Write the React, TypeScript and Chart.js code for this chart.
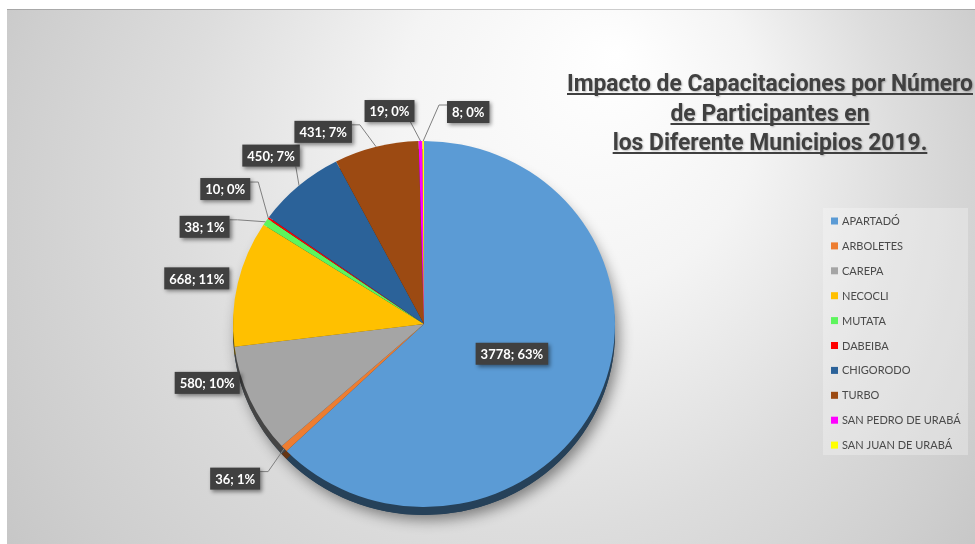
import React, { useEffect, useRef } from "react";
import { Chart, registerables } from "chart.js";

Chart.register(...registerables);

// ---------- data ----------
const municipios = [
  "APARTADÓ",
  "ARBOLETES",
  "CAREPA",
  "NECOCLI",
  "MUTATA",
  "DABEIBA",
  "CHIGORODO",
  "TURBO",
  "SAN PEDRO DE URABÁ",
  "SAN JUAN DE URABÁ",
];
const participantes = [3778, 36, 580, 668, 38, 10, 450, 431, 19, 8];
const colores = [
  "#5b9bd5",
  "#ed7d31",
  "#a5a5a5",
  "#ffc000",
  "#5df55d",
  "#ff0000",
  "#2b6299",
  "#9c4a12",
  "#ff00ff",
  "#ffff00",
];
const tituloLineas = [
  "Impacto de Capacitaciones por Número",
  "de Participantes en",
  "los Diferente Municipios 2019.",
];

// ---------- label placement (style: offsets from slice edge) ----------
const etiquetaDesplazamiento: [number, number][] = [
  [0, -6],
  [-49, 30],
  [-43, -17],
  [-41, -5],
  [-61, 5],
  [-43, -29],
  [-28, -30],
  [-53, -15],
  [-31, -30],
  [45, -29],
];

const SY = 183 / 191; // vertical squash of the tilted pie
const DEPTH = 8; // visible thickness of the pie edge

function oscurecer(hex: string, f: number) {
  const n = parseInt(hex.slice(1), 16);
  const r = Math.round(((n >> 16) & 255) * f);
  const g = Math.round(((n >> 8) & 255) * f);
  const b = Math.round((n & 255) * f);
  return `rgb(${r},${g},${b})`;
}

const fondoPlugin = {
  id: "fondo",
  beforeDraw(chart: any) {
    const { ctx, width, height } = chart;
    ctx.save();
    const g = ctx.createRadialGradient(610, 45, 0, 480, 240, 600);
    g.addColorStop(0, "#ffffff");
    g.addColorStop(0.3, "#f4f4f4");
    g.addColorStop(0.6, "#dddddd");
    g.addColorStop(0.85, "#cecece");
    g.addColorStop(1, "#c4c4c4");
    ctx.fillStyle = g;
    ctx.fillRect(0, 0, width, height);
    ctx.fillStyle = "rgba(0,0,0,0.18)";
    ctx.fillRect(0, 0, width, 1);
    ctx.restore();
  },
};

const pie3DPlugin = {
  id: "pie3d",
  beforeDatasetsDraw(chart: any) {
    const ctx = chart.ctx;
    const arcs = chart.getDatasetMeta(0).data as any[];
    if (!arcs.length) return;
    const { x, y, outerRadius } = arcs[0];
    const d = DEPTH / SY;
    ctx.save();
    ctx.translate(x, y);
    ctx.scale(1, SY);
    ctx.translate(-x, -y);
    // drop shadow
    ctx.save();
    ctx.shadowColor = "rgba(0,0,0,0.45)";
    ctx.shadowBlur = 14;
    ctx.shadowOffsetX = 4;
    ctx.shadowOffsetY = 5;
    ctx.beginPath();
    ctx.arc(x, y + d, outerRadius, 0, Math.PI * 2);
    ctx.fillStyle = oscurecer(colores[0], 0.42);
    ctx.fill();
    ctx.restore();
    // side walls
    arcs.forEach((a: any, i: number) => {
      ctx.beginPath();
      ctx.moveTo(x, y + d);
      ctx.arc(x, y + d, outerRadius, a.startAngle, a.endAngle);
      ctx.closePath();
      ctx.fillStyle = oscurecer(colores[i], 0.42);
      ctx.fill();
    });
    // keep the squash transform for the face (restored after datasets)
  },
  afterDatasetsDraw(chart: any) {
    const ctx = chart.ctx;
    ctx.restore();
    const arcs = chart.getDatasetMeta(0).data as any[];
    const total = participantes.reduce((s, v) => s + v, 0);
    arcs.forEach((a: any, i: number) => {
      const mid = (a.startAngle + a.endAngle) / 2;
      const inside = i === 0;
      const rr = inside ? a.outerRadius * 0.5 : a.outerRadius;
      const ax = a.x + rr * Math.cos(mid);
      const ay = a.y + rr * SY * Math.sin(mid);
      const [dx, dy] = etiquetaDesplazamiento[i];
      const bx = ax + dx;
      const by = ay + dy;
      const texto = `${participantes[i]}; ${Math.round((participantes[i] / total) * 100)}%`;
      ctx.save();
      ctx.font = "bold 13px Lato, 'Open Sans', sans-serif";
      const w = ctx.measureText(texto).width + 10;
      const h = 22;
      const left = bx - w / 2;
      const right = bx + w / 2;
      const top = by - h / 2;
      const bottom = by + h / 2;
      if (!inside) {
        const nx = Math.max(left, Math.min(ax, right));
        const ny = Math.max(top, Math.min(ay, bottom));
        const dist = Math.hypot(ax - nx, ay - ny);
        if (dist > 14) {
          ctx.strokeStyle = "#7f7f7f";
          ctx.lineWidth = 1;
          ctx.beginPath();
          if (ax > right + 10) {
            ctx.moveTo(right, top + 4);
            ctx.lineTo(right + 8, top + 4);
            ctx.lineTo(ax, ay);
          } else if (ax < left - 10) {
            ctx.moveTo(left, top + 4);
            ctx.lineTo(left - 8, top + 4);
            ctx.lineTo(ax, ay);
          } else {
            ctx.moveTo(Math.max(left + 4, Math.min(ax, right - 4)), ay > bottom ? bottom : top);
            ctx.lineTo(ax, ay);
          }
          ctx.stroke();
        }
      }
      ctx.shadowColor = "rgba(0,0,0,0.45)";
      ctx.shadowBlur = 4;
      ctx.shadowOffsetX = 2;
      ctx.shadowOffsetY = 2;
      ctx.fillStyle = "#404040";
      ctx.fillRect(left, top, w, h);
      ctx.shadowColor = "transparent";
      ctx.fillStyle = "#ffffff";
      ctx.textAlign = "center";
      ctx.textBaseline = "middle";
      ctx.fillText(texto, bx, by + 1);
      ctx.restore();
    });
  },
};

const decoracionPlugin = {
  id: "decoracion",
  afterDraw(chart: any) {
    const ctx = chart.ctx;
    // ----- legend -----
    ctx.save();
    const lx = 816;
    const ly = 199;
    ctx.fillStyle = "rgba(255,255,255,0.28)";
    ctx.fillRect(lx, ly, 145, 247);
    ctx.font = "11px Lato, 'Open Sans', sans-serif";
    ctx.textBaseline = "middle";
    ctx.textAlign = "left";
    municipios.forEach((m, i) => {
      const cy = ly + 13 + i * 24.9;
      ctx.fillStyle = colores[i];
      ctx.fillRect(lx + 8, cy - 3.5, 7, 7);
      ctx.fillStyle = "#4a4a4a";
      ctx.fillText(m, lx + 19, cy + 0.5);
    });
    ctx.restore();

    // ----- title -----
    ctx.save();
    ctx.font = "bold 23.5px Roboto, 'Liberation Sans', sans-serif";
    const w0 = ctx.measureText(tituloLineas[0]).width;
    const sx = 406 / w0;
    const cx = 763;
    const bases = [82, 112, 141];
    tituloLineas.forEach((t, i) => {
      const tw = ctx.measureText(t).width * sx;
      ctx.save();
      ctx.translate(cx, bases[i]);
      ctx.scale(sx, 1);
      ctx.shadowColor = "rgba(0,0,0,0.25)";
      ctx.shadowBlur = 2;
      ctx.shadowOffsetX = 1;
      ctx.shadowOffsetY = 1;
      ctx.fillStyle = "#404040";
      ctx.textAlign = "center";
      ctx.textBaseline = "alphabetic";
      ctx.fillText(t, 0, 0);
      ctx.restore();
      ctx.fillStyle = "#404040";
      ctx.fillRect(cx - tw / 2, bases[i] + 2, tw, 2);
    });
    ctx.restore();
  },
};

export default function App() {
  const ref = useRef<HTMLCanvasElement | null>(null);
  useEffect(() => {
    document.body.style.margin = "0";
    const canvas = ref.current;
    if (!canvas) return;
    const chart = new Chart(canvas, {
      type: "pie",
      data: {
        labels: municipios,
        datasets: [
          {
            data: participantes,
            backgroundColor: colores,
            borderWidth: 0,
            radius: 191,
          } as any,
        ],
      },
      options: {
        responsive: false,
        animation: false,
        events: [],
        layout: { padding: { left: 226, right: 360, top: 124, bottom: 29 } },
        plugins: {
          legend: { display: false },
          title: { display: false },
          tooltip: { enabled: false },
        },
      },
      plugins: [fondoPlugin, pie3DPlugin, decoracionPlugin],
    });
    return () => chart.destroy();
  }, []);
  return (
    <div style={{ position: "relative", width: 975, height: 544, background: "#ffffff", overflow: "hidden" }}>
      <canvas
        ref={ref}
        width={968}
        height={535}
        style={{ position: "absolute", left: 7, top: 9, width: 968, height: 535 }}
      />
    </div>
  );
}
